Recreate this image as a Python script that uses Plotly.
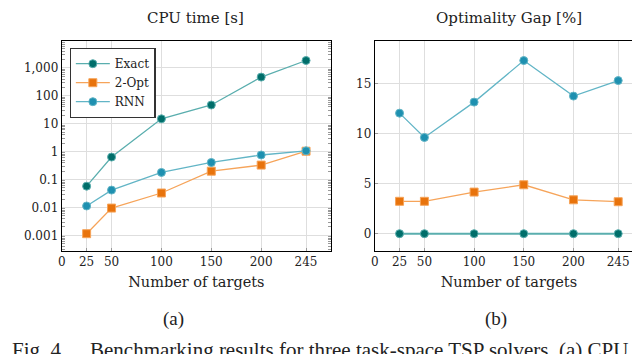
import plotly.graph_objects as go

targets = [25, 50, 100, 150, 200, 245]

cpu_exact = [0.058, 0.64, 15, 47, 470, 1850]
cpu_2opt = [0.00115, 0.0095, 0.033, 0.2, 0.33, 1.04]
cpu_rnn = [0.0113, 0.042, 0.18, 0.41, 0.76, 1.07]

gap_exact = [0, 0, 0, 0, 0, 0]
gap_2opt = [3.23, 3.23, 4.15, 4.88, 3.38, 3.19]
gap_rnn = [12.03, 9.6, 13.13, 17.28, 13.73, 15.28]

x_ticks = [0, 25, 50, 100, 150, 200, 245]
gap_ticks = [0, 5, 10, 15]

series = [
    ("Exact", cpu_exact, gap_exact, "#006e6a", "#5aaeae", "circle"),
    ("2-Opt", cpu_2opt, gap_2opt, "#e8730c", "#f6a45a", "square"),
    ("RNN", cpu_rnn, gap_rnn, "#1e90b0", "#62b5c6", "circle"),
]

FONT = "DejaVu Serif"
CAP = "Liberation Serif"
fig = go.Figure()
for name, cpu, gap, mc, lc, sym in series:
    fig.add_trace(go.Scatter(x=targets, y=cpu, name=name, mode="lines+markers",
                             line=dict(color=lc, width=1.3),
                             marker=dict(color=mc, symbol=sym, size=8,
                                         line=dict(color=lc, width=1)),
                             xaxis="x", yaxis="y"))
for name, cpu, gap, mc, lc, sym in series:
    fig.add_trace(go.Scatter(x=targets, y=gap, name=name, mode="lines+markers",
                             showlegend=False,
                             line=dict(color=lc, width=1.3 if name != "Exact" else 2),
                             marker=dict(color=mc, symbol=sym, size=8,
                                         line=dict(color=lc, width=1)),
                             xaxis="x2", yaxis="y2"))

xcommon = dict(range=[0, 270], tickvals=x_ticks, showgrid=True, gridcolor="#dedede",
               gridwidth=1.3, showline=True, linecolor="black", linewidth=1, mirror=True,
               ticks="inside", ticklen=3, tickcolor="#999999", zeroline=False,
               tickfont=dict(family=FONT, size=12, color="#222"),
               title=dict(text="Number of targets", font=dict(family=FONT, size=14.5, color="#222"),
                          standoff=8))

fig.update_layout(
    width=640, height=354, margin=dict(l=0, r=0, t=0, b=0),
    paper_bgcolor="white", plot_bgcolor="white",
    xaxis=dict(domain=[50 / 640, 321 / 640], anchor="y", **xcommon),
    xaxis2=dict(domain=[365 / 640, 635 / 640], anchor="y2", **xcommon),
    yaxis=dict(domain=[1 - 243 / 354, 1 - 33.3 / 354], anchor="x", type="log",
               range=[-3.56, 3.955], tickmode="linear", tick0=0, dtick=1,
               tickformat=",~g",
               showgrid=True, gridcolor="#dedede", gridwidth=1.3,
               showline=True, linecolor="black", linewidth=1, mirror="allticks",
               ticks="inside", ticklen=0, zeroline=False,
               minor=dict(ticks="inside", ticklen=3, tickcolor="#999999",
                          dtick="D1", showgrid=False),
               tickfont=dict(family=FONT, size=12, color="#222")),
    yaxis2=dict(domain=[1 - 243 / 354, 1 - 33.3 / 354], anchor="x2",
                range=[-1.73, 19.2], tickvals=gap_ticks,
                showgrid=True, gridcolor="#dedede", gridwidth=1.3,
                showline=True, linecolor="black", linewidth=1, mirror=True,
                ticks="inside", ticklen=3, tickcolor="#999999", zeroline=False,
                tickfont=dict(family=FONT, size=12, color="#222")),
    legend=dict(x=58 / 640, y=1 - 40 / 354, xanchor="left", yanchor="top",
                bgcolor="white", bordercolor="#333", borderwidth=1.2,
                font=dict(family=FONT, size=12, color="#222"),
                tracegroupgap=0, itemwidth=34),
    showlegend=True,
)

ann = [
    ("CPU time [s]", 185, 10, 15, FONT),
    ("Optimality Gap [%]", 500, 10, 15, FONT),
    ("(a)", 163, 311, 19, CAP),
    ("(b)", 487, 311, 19, CAP),
]
for text, x, y, size, fam in ann:
    fig.add_annotation(text=text, x=x / 640, y=1 - y / 354, xref="paper", yref="paper",
                       showarrow=False, xanchor="center", yanchor="middle",
                       font=dict(family=fam, size=size, color="#222"))

caption_parts = [
    ("Fig. 4.", -2),
    ("Benchmarking results for three task-space TSP solvers. (a) CPU", 76),
]
for text, x in caption_parts:
    fig.add_annotation(text=text, x=x / 640, y=1 - 342 / 354, xref="paper", yref="paper",
                       showarrow=False, xanchor="left", yanchor="middle",
                       font=dict(family=CAP, size=21, color="#222"))

fig.write_html("out.html")
